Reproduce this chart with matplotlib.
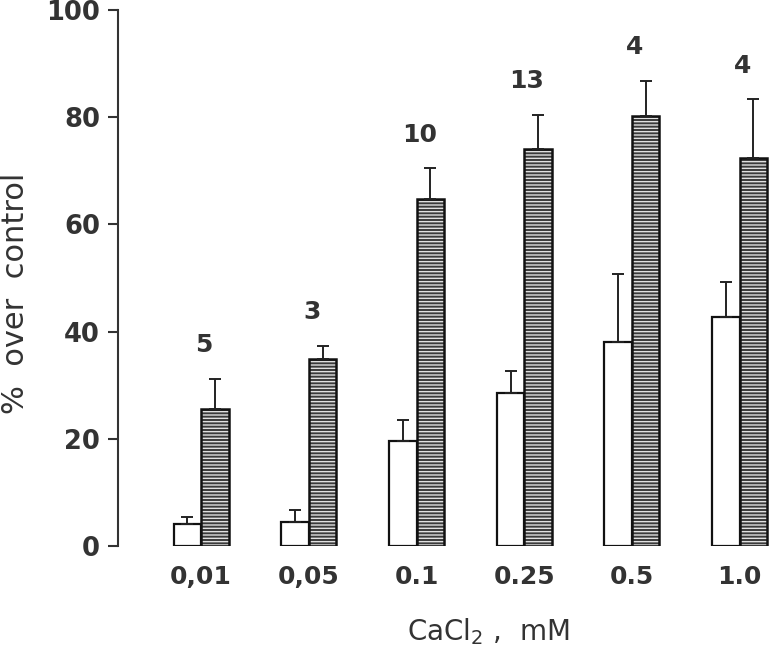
import numpy as np
import matplotlib.pyplot as plt

conc_labels = ['0,01', '0,05', '0.1', '0.25', '0.5', '1.0']
open_vals = [4.1, 4.5, 19.5, 28.6, 38.0, 42.7]
open_err = [1.3, 2.2, 4.0, 4.0, 12.7, 6.6]
hatch_vals = [25.5, 34.8, 64.8, 74.0, 80.2, 72.3]
hatch_err = [5.7, 2.6, 5.7, 6.5, 6.6, 11.1]
n_obs = [5, 3, 10, 13, 4, 4]

txt = '#333333'
x = np.arange(len(conc_labels))
w = 0.255

fig = plt.figure(figsize=(7.72, 6.52), dpi=100)
ax = fig.add_axes([0.153, 0.1626, 0.847, 0.822])
plt.rcParams['hatch.linewidth'] = 1.0

# open bars (left of each pair)
ax.bar(x - w / 2, open_vals, w, color='white', edgecolor='#111111', linewidth=1.6)
ax.errorbar(x - w / 2, open_vals, yerr=[np.zeros(len(x)), open_err],
            fmt='none', ecolor='#222222', elinewidth=1.4, capsize=4, capthick=1.4)

# hatched bars: dark fill with fine white lines, then a black outline
ax.bar(x + w / 2, hatch_vals, w, color='#3a3a3a', edgecolor='#e0e0e0',
       hatch='-----', linewidth=0)
ax.bar(x + w / 2, hatch_vals, w, fill=False, edgecolor='#111111', linewidth=1.8)
ax.errorbar(x + w / 2, hatch_vals, yerr=[np.zeros(len(x)), hatch_err],
            fmt='none', ecolor='#222222', elinewidth=1.4, capsize=4, capthick=1.4)

# number of experiments above each pair
for i in range(len(x)):
    top = hatch_vals[i] + hatch_err[i]
    ax.annotate(str(n_obs[i]), (x[i], top), xytext=(2, 24), textcoords='offset points',
                ha='center', va='center', fontsize=18, fontweight='bold', color=txt)

ax.set_xlim(-0.77, 5.3)
ax.set_ylim(0, 100)
ax.set_yticks([0, 20, 40, 60, 80, 100])
ax.set_xticks(x)
ax.set_xticklabels(conc_labels)

for s in ['top', 'right', 'bottom']:
    ax.spines[s].set_visible(False)
ax.spines['left'].set_linewidth(1.5)
ax.spines['left'].set_color('#333333')
ax.tick_params(axis='y', direction='out', length=7, width=1.5, color='#333333',
               labelsize=18.5, labelcolor=txt, pad=6)
ax.tick_params(axis='x', length=0, labelsize=18, labelcolor=txt, pad=14)
for lab in ax.get_yticklabels() + ax.get_xticklabels():
    lab.set_fontweight('bold')

fig.text(0.02, 0.55, '%  over  control', rotation=90, ha='center', va='center',
         fontsize=22, color=txt)
fig.text(0.632, 0.032, 'CaCl$_2$ ,  mM', ha='center', va='center',
         fontsize=20, color=txt)

fig.savefig('out.png', dpi=100)
